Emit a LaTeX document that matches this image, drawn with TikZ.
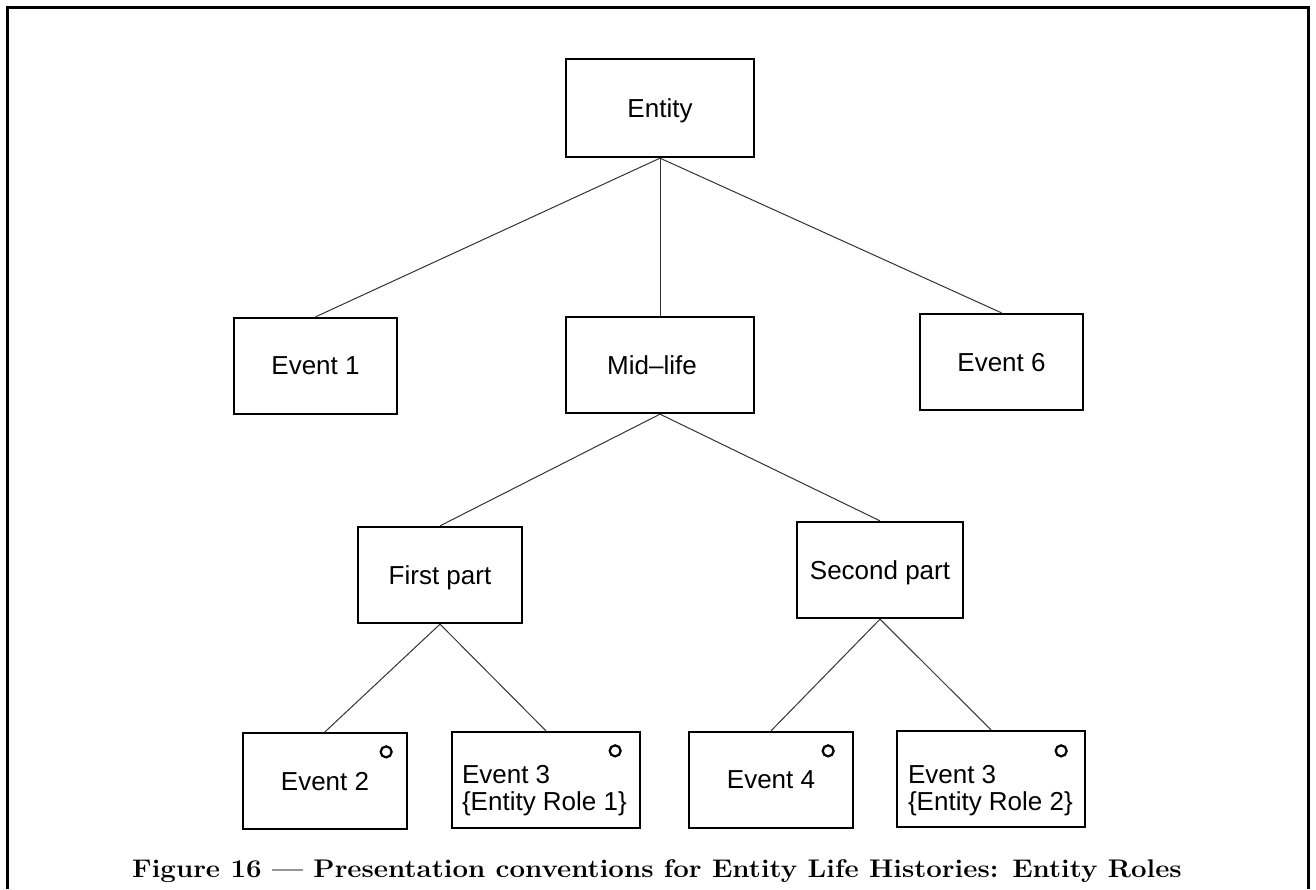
\documentclass[tikz,border=0pt]{standalone}
\usepackage{fontspec}
\newfontfamily\boxfont{Liberation Sans}
\usetikzlibrary{calc}
\begin{document}
\begin{tikzpicture}[x=1pt,y=-1pt,
  elhbox/.style={draw=black,line width=2.3pt,fill=white,inner sep=0pt,
    font=\boxfont\fontsize{26}{27.5}\selectfont,text depth=0pt},
  elhtext/.style={inner sep=0pt,align=left,
    font=\boxfont\fontsize{26}{27.5}\selectfont},
  link/.style={line width=1pt,draw=black!80},
  optmark/.style={circle,draw=black,line width=2.2pt,minimum size=11pt,inner sep=0pt},
  frame/.style={line width=3pt,draw=black}]
  % page extent
  \useasboundingbox (0,0) rectangle (1316,889);
  % outer frame, open at the bottom
  \draw[frame] (7,889) -- (7,7) -- (1308,7) -- (1308,889);

  % tree of boxes
  \node[elhbox,minimum width=188pt,minimum height=98pt] (entity) at (660,108) {Entity};
  \node[elhbox,minimum width=163pt,minimum height=96pt] (ev1) at (315.5,366) {Event 1};
  \node[elhbox,minimum width=188pt,minimum height=96pt] (mid) at (660,365) {};
  \node[elhtext] (midtext) at (652,365) {Mid–life};
  \node[elhbox,minimum width=163pt,minimum height=96pt] (ev6) at (1001.5,362) {Event 6};
  \node[elhbox,minimum width=164pt,minimum height=96pt] (first) at (440,575) {First part};
  \node[elhbox,minimum width=166pt,minimum height=96pt] (second) at (880,570) {Second part};
  \node[elhbox,minimum width=164pt,minimum height=96pt] (ev2) at (325,781) {Event 2};
  \node[elhbox,minimum width=188pt,minimum height=96pt] (ev3a) at (546,780) {};
  \node[elhbox,minimum width=164pt,minimum height=96pt] (ev4) at (771,780) {Event 4};
  \node[elhbox,minimum width=188pt,minimum height=96pt] (ev3b) at (991,779) {};

  % two-line labels of the role boxes (anchored on the second line's baseline)
  \node[elhtext,anchor=base west] (ev3atext) at ($(ev3a.west)+(11,30.5)$) {Event 3\\\{Entity Role 1\}};
  \node[elhtext,anchor=base west] (ev3btext) at ($(ev3b.west)+(12,31.5)$) {Event 3\\\{Entity Role 2\}};

  % option markers
  \node[optmark] (o2) at ($(ev2.north east)+(-22,20)$) {};
  \node[optmark] (o3a) at ($(ev3a.north east)+(-26,20)$) {};
  \node[optmark] (o4) at ($(ev4.north east)+(-26,20)$) {};
  \node[optmark] (o3b) at ($(ev3b.north east)+(-25,21)$) {};

  % connectors
  \draw[link] (entity.south) -- (ev1.north);
  \draw[link] (entity.south) -- (mid.north);
  \draw[link] (entity.south) -- (ev6.north);
  \draw[link] (mid.south) -- (first.north);
  \draw[link] (mid.south) -- (second.north);
  \draw[link] (first.south) -- (ev2.north);
  \draw[link] (first.south) -- (ev3a.north);
  \draw[link] (second.south) -- (ev4.north);
  \draw[link] (second.south) -- (ev3b.north);

  % caption
  \node[anchor=base,inner sep=0pt,font=\bfseries\fontsize{25.5}{27}\selectfont] (caption) at (657,877)
    {\scalebox{1.084}[1]{Figure 16 --- Presentation conventions for Entity Life Histories: Entity Roles}};
\end{tikzpicture}
\end{document}
